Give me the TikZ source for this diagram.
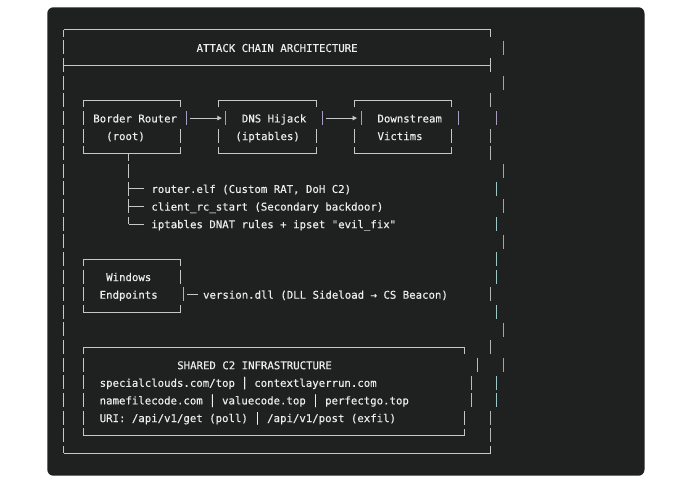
\documentclass[tikz,border=0pt]{standalone}
\usepackage{fontspec}
\newfontfamily\codefont{DejaVu Sans Mono}[FakeBold=0.35]
\usetikzlibrary{arrows.meta}
\definecolor{panel}{HTML}{1F2020}
\definecolor{ink}{HTML}{EDEDED}
\definecolor{rulegray}{HTML}{C4C8C8}
\definecolor{barlav}{HTML}{A99CC2}
\definecolor{barteal}{HTML}{9CC8C8}
\definecolor{bargray}{HTML}{B4B4B4}

\begin{document}
\begin{tikzpicture}[
    x=1pt, y=-1pt,
    every node/.style={font=\codefont\fontsize{10.7pt}{12pt}\selectfont, text=ink},
    txt/.style={anchor=west, inner sep=0pt, text height=8.6pt, text depth=0pt},
    box/.style={inner sep=0pt, minimum width=96.9pt, minimum height=52.9pt},
    rule/.style={draw=rulegray, line width=0.8pt},
    seg/.style={dash pattern=on 14pt off 3.625pt, dash phase=7pt},
    flow/.style={rule, -{Triangle[length=4.5pt, width=4.5pt]}}
  ]

  % Page and dark panel
  \fill[white] (0,0) rectangle (680,484);
  \fill[panel, rounded corners=6pt] (47.3,7.3) rectangle (644.5,475.7);

  % Outer frame with title row
  \node[inner sep=0pt, minimum width=426.4pt, minimum height=423pt] (frame) at (277.2,241.5) {};
  \draw[rule] (frame.north west) -- (frame.north east) -- ++(0,7);
  \draw[rule, seg] (frame.north west) -- (frame.south west);
  \draw[rule] (frame.south west) -- (frame.south east) -- ++(0,-7);
  \draw[rule] (64,65.25) -- (490.4,65.25) (490.4,58.25) -- (490.4,72.25);
  \node[txt] (title) at (196.4,47.6) {ATTACK CHAIN ARCHITECTURE};

  % Boxes
  \node[box] (router) at (131.85,126.95) {};
  \node[box] (dns) at (267.45,126.95) {};
  \node[box] (victims) at (403.15,126.95) {};
  \node[box] (windows) at (131.85,285.55) {};
  \node[box, minimum width=381.1pt, minimum height=88.15pt] (shared) at (273.95,391.3) {};

  \draw[rule] (router.north west) -- (router.north east) -- ++(0,7);
  \draw[rule] (router.south west) -- (router.south east);
  \draw[rule, seg] (router.north west) -- (router.south west) (router.south east) -- ++(0,-24.6);

  \draw[rule] (dns.north west) ++(0,7) -- (dns.north west) -- (dns.north east) -- ++(0,7);
  \draw[rule] (dns.south west) -- (dns.south east);
  \draw[rule, seg] (dns.south west) -- ++(0,-24.6) (dns.south east) -- ++(0,-24.6);

  \draw[rule] (victims.north west) ++(0,7) -- (victims.north west) -- (victims.north east) -- ++(0,7);
  \draw[rule] (victims.south west) -- (victims.south east);
  \draw[rule, seg] (victims.south west) -- ++(0,-24.6) (victims.south east) -- ++(0,-24.6);

  \draw[rule] (windows.north west) -- (windows.north east);
  \draw[rule, seg] (windows.north west) -- (windows.south west) (windows.north east) -- ++(0,24.6);
  \draw[rule] (windows.south west) -- (windows.south east) -- ++(0,-7);

  \draw[rule] (shared.north west) -- (shared.north east) -- ++(0,7);
  \draw[rule, seg] (shared.north west) -- (shared.south west) (shared.south east) -- ++(0,-24.6);
  \draw[rule] (shared.south west) -- (shared.south east);

  % Box texts
  \node[txt] (rname) at (93.1,118.1) {Border Router};
  \node[txt] (rrole) at (106.0,135.75) {(root)};
  \node[txt] (dname) at (241.65,118.1) {DNS Hijack};
  \node[txt] (drole) at (235.2,135.75) {(iptables)};
  \node[txt] (vname) at (377.3,118.1) {Downstream};
  \node[txt] (vrole) at (377.3,135.75) {Victims};
  \node[txt] (wname) at (106.0,276.75) {Windows};
  \node[txt] (wrole) at (99.5,294.4) {Endpoints};

  % Chain arrows
  \draw[flow] ([shift={(9.6,-8.85)}]router.east) -- ([shift={(3,-8.85)}]dns.west);
  \draw[flow] ([shift={(9.7,-8.85)}]dns.east) -- ([shift={(2.5,-8.85)}]victims.west);

  % Implants on the router
  \node[txt] (elf) at (151.2,188.6) {router.elf (Custom RAT, DoH C2)};
  \node[txt] (rcstart) at (151.2,206.25) {client\_rc\_start (Secondary backdoor)};
  \node[txt] (ipt) at (151.2,223.9) {iptables DNAT rules + ipset "evil\_fix"};
  \coordinate (trunk) at ([xshift=-3.25pt]router.south);
  \draw[rule, seg] (trunk) -- (trunk |- ipt.west);
  \draw[rule] (trunk |- elf.west) -- ++(15.4,0) (trunk |- rcstart.west) -- ++(15.4,0)
    (trunk |- ipt.west) -- ++(15.4,0);

  % Windows implant
  \node[txt] (dll) at (202.9,294.4) {version.dll (DLL Sideload → CS Beacon)};
  \draw[rule] ([xshift=-5.4pt]dll.west) -- ++(-10.6,0);

  % Shared infrastructure
  \node[txt] (stitle) at (177.05,364.9) {SHARED C2 INFRASTRUCTURE};
  \node[txt] (dom1) at (99.5,382.5) {specialclouds.com/top │ contextlayerrun.com};
  \node[txt] (dom2) at (99.5,400.1) {namefilecode.com │ valuecode.top │ perfectgo.top};
  \node[txt] (uri) at (99.5,417.75) {URI: /api/v1/get (poll) │ /api/v1/post (exfil)};

  % Shifted right-hand bars
  \foreach \x/\y/\c in {186.7/118.1/barlav, 225.5/118.1/barlav, 322.4/118.1/barlav,
      361.2/118.1/barlav, 458/118.1/barlav, 183/294.4/bargray,
      477.4/364.9/barteal, 471/382.5/barteal, 471/400.1/barteal,
      503.3/47.6/barlav, 503.3/82.9/barlav, 490.4/100.5/bargray, 496.8/118.1/barlav,
      490.4/135.75/bargray, 490.4/153.4/bargray, 503.3/171/barlav, 496.8/188.6/barteal,
      503.3/206.25/barlav, 496.8/223.9/barteal, 503.3/241.5/barlav, 496.8/259.1/barteal,
      496.8/276.75/barteal, 490.4/294.4/bargray, 496.8/312/barteal, 503.3/329.6/barlav,
      490.4/347.25/bargray, 503.3/364.9/barlav, 496.8/382.5/barteal, 496.8/400.1/barteal,
      490.4/417.75/bargray, 490.4/435.4/bargray}
    \draw[draw=\c, line width=0.8pt] (\x,\y-7) -- (\x,\y+7);

\end{tikzpicture}
\end{document}
